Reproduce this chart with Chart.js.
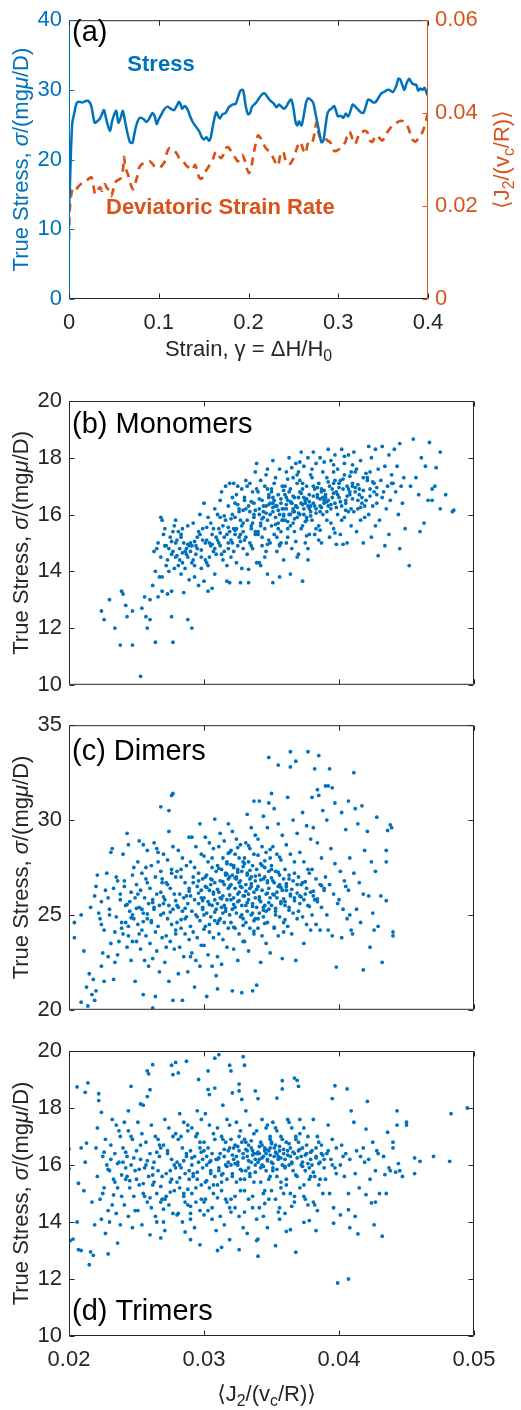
<!DOCTYPE html>
<html>
<head>
<meta charset="utf-8">
<script src="https://cdn.jsdelivr.net/npm/chart.js@4.4.1/dist/chart.umd.min.js"></script>
<style>
body { margin: 0; background: #fff; }
#wrap { position: relative; width: 521px; height: 1410px; }
canvas { position: absolute; left: 0; }
</style>
</head>
<body>
<div id="wrap">
<canvas id="chartA" width="521" height="375" style="top:0px"></canvas>
<canvas id="chartB" width="521" height="330" style="top:375px"></canvas>
<canvas id="chartC" width="521" height="325" style="top:705px"></canvas>
<canvas id="chartD" width="521" height="380" style="top:1030px"></canvas>
</div>
<script>
const BLUE = '#0072BD', ORANGE = '#D95319', AXIS = '#262626';
const FONT = '"Liberation Sans", Arial, "DejaVu Sans", sans-serif';

// (a) stress and deviatoric strain rate against strain
const strainS = [0,.001,.002,.0037,.0056,.0085,.011,.015,.0186,.022,.025,.0286,.0316,.0345,.037,.039,.042,.0457,.048,.051,.0527,.055,.0576,.06,.062,.065,.068,.0706,.0724,.0754,.079,.083,.0865,.0895,.093,.0955,.0977,.1,.103,.106,.1096,.1133,.117,.12,.1226,.1244,.126,.129,.132,.135,.1374,.141,.145,.148,.1504,.153,.156,.158,.161,.164,.166,.168,.171,.1746,.178,.182,.1857,.188,.191,.1936,.195,.197,.1995,.2017,.204,.208,.2117,.2154,.218,.221,.224,.2277,.2314,.234,.2366,.2396,.2425,.245,.2477,.25,.2526,.2544,.2563,.259,.2618,.264,.2663,.2693,.2722,.2745,.2767,.2789,.2812,.2834,.2856,.2878,.29,.2923,.2953,.2975,.2997,.3027,.3057,.3083,.311,.3139,.3161,.319,.322,.325,.328,.3306,.3332,.336,.339,.342,.3454,.348,.351,.3547,.357,.361,.365,.367,.369,.3714,.3737,.376,.379,.3814,.384,.387,.389,.3915,.3937,.3963,.398,.4];
const stress = [13.0,16.0,20.5,25.3,26.5,28.1,28.3,28.2,28.4,28.4,27.6,25.3,25.5,25.9,26.6,27.1,25.5,24.1,25.5,26.7,27.0,25.3,26.0,27.0,25.8,23.9,22.5,22.4,23.4,25.1,26.0,25.8,25.4,25.9,26.7,26.2,25.1,25.8,26.5,27.2,27.6,27.3,27.1,27.7,28.3,27.9,27.3,27.7,27.2,26.2,25.5,24.8,24.1,23.2,22.9,23.2,22.7,23.2,25.3,26.8,26.3,25.9,26.5,26.7,27.5,27.9,28.0,28.8,29.9,30.0,29.3,27.6,26.5,26.7,27.6,28.1,28.8,29.4,29.5,29.0,28.5,28.1,27.5,27.9,27.6,27.3,27.7,28.3,28.6,27.4,25.3,24.9,25.5,24.9,26.5,28.1,28.8,28.6,28.1,26.7,25.3,23.9,22.5,22.7,24.6,26.5,27.1,27.3,27.7,27.0,26.2,26.3,26.0,26.6,26.2,27.1,27.9,27.6,27.2,26.8,26.7,27.6,28.6,28.5,28.2,28.3,29.0,29.5,29.7,30.0,30.0,29.7,30.7,31.6,31.5,30.7,30.0,30.9,31.6,31.1,30.8,30.7,29.9,30.2,30.0,30.3,29.7,29.1];
const strainR = [0,.001,.0026,.0048,.0074,.01,.013,.016,.0186,.0223,.0249,.027,.029,.0316,.0345,.037,.0397,.042,.0446,.047,.05,.0527,.0557,.0583,.0605,.0613,.063,.0657,.0687,.0713,.0735,.076,.078,.081,.0836,.0865,.0895,.0925,.0955,.0984,.1014,.1044,.1066,.1088,.1114,.114,.117,.12,.123,.1259,.1289,.1318,.1348,.1378,.1404,.143,.1452,.1474,.1497,.1523,.1549,.1578,.1608,.1634,.166,.169,.172,.1746,.177,.18,.183,.1857,.188,.1905,.193,.1957,.198,.2005,.203,.2054,.208,.2106,.2136,.2165,.2195,.2217,.2247,.2277,.2303,.2329,.2359,.2388,.2414,.244,.247,.25,.2526,.2552,.2581,.2611,.2637,.2656,.2682,.2711,.2737,.2756,.2774,.2797,.2823,.2849,.2878,.2908,.2934,.296,.299,.302,.305,.3079,.3101,.3124,.3146,.3168,.319,.3213,.3242,.3268,.3294,.3324,.3354,.338,.3406,.3436,.3465,.3491,.3517,.3547,.3577,.3603,.3629,.3658,.3688,.3718,.3748,.377,.3792,.3814,.3837,.3863,.3889,.3918,.3944,.3967,.3982,.4];
const rate = [.0128,.0198,.0226,.024,.0236,.0241,.0247,.025,.0254,.0259,.0262,.0247,.0226,.0233,.0241,.0233,.0247,.024,.0233,.0222,.024,.0254,.0257,.0262,.0285,.0306,.0282,.0268,.0247,.0236,.0247,.0264,.0282,.029,.0292,.0294,.0297,.0292,.0285,.0283,.0283,.0289,.0296,.0313,.0324,.0324,.032,.0313,.0303,.0299,.0292,.0285,.0282,.0278,.0289,.0275,.0261,.0259,.0264,.0275,.0283,.0292,.0303,.0317,.0313,.0303,.031,.0324,.0327,.032,.031,.0303,.0296,.0303,.031,.0299,.0282,.0271,.0282,.031,.0334,.0352,.0346,.0334,.0324,.032,.0313,.0303,.0292,.0287,.0313,.0317,.0297,.029,.0292,.0303,.0317,.0331,.0338,.032,.0313,.0331,.0341,.0338,.0359,.038,.0362,.0348,.0345,.0348,.0341,.0338,.0324,.0318,.032,.0324,.033,.0338,.0352,.036,.0352,.0338,.0334,.0345,.0359,.036,.0362,.0359,.0341,.0338,.0348,.0352,.0345,.0341,.0348,.0359,.0367,.0373,.0376,.038,.0383,.0383,.038,.0373,.0362,.0348,.0341,.0339,.0345,.0352,.0362,.0376,.0387,.04];
const strainTicks = [0, 0.1, 0.2, 0.3, 0.4];
const stressTicksA = [0, 10, 20, 30, 40];
const rateTicks = [0, 0.02, 0.04, 0.06];

// (b)-(d) true stress against <J2/(vc/R)>, one [x, y] per sample
const rateXTicks = [0.02, 0.03, 0.04, 0.05];
const monoTicks = [10, 12, 14, 16, 18, 20];
const diTicks = [20, 25, 30, 35];
const triTicks = [10, 12, 14, 16, 18, 20];

const monomers = [
[.0224,12.6],[.0226,12.3],[.0230,13.0],[.0234,12.0],[.0238,11.4],[.0239,13.3],[.0240,13.2],[.0242,12.8],[.0243,12.4],[.0247,11.4],[.0247,12.6],[.0253,10.3],[.0254,12.7],[.0256,13.1],[.0257,12.4],[.0258,12.0],[.0260,13.0],[.0260,12.3],[.0264,11.5],[.0266,13.1],[.0269,13.3],[.0273,13.2],[.0276,12.4],[.0277,11.5],[.0288,12.3],[.0291,12.0],[.0262,13.5],[.0264,14.0],[.0265,14.8],[.0267,13.8],[.0269,13.8],[.0268,15.9],[.0269,15.8],[.0266,15.0],[.0268,14.5],[.0263,14.7],
[.0271,15.5],[.0278,15.6],[.0275,15.2],[.0272,14.9],[.0277,14.7],[.0279,15.0],[.0273,14.4],[.0272,14.2],[.0276,14.6],[.0274,14.0],[.0276,13.3],[.0270,15.3],[.0274,14.8],[.0279,14.5],[.0277,15.4],[.0278,14.1],[.0271,14.9],[.0279,15.8],
[.0281,15.4],[.0283,15.2],[.0285,15.0],[.0282,14.8],[.0287,14.6],[.0289,14.9],[.0284,14.3],[.0286,14.1],[.0288,14.5],[.0283,15.3],[.0280,15.1],[.0286,14.7],[.0285,13.25],[.0289,13.7],[.0281,14.2],[.0288,15.6],[.0282,14.4],[.0284,15.5],[.0287,14.8],[.0283,13.9],
[.0292,15.7],[.0297,15.3],[.0290,15.0],[.0295,14.8],[.0298,14.5],[.0293,14.2],[.0291,14.9],[.0296,15.4],[.0296,13.5],[.0294,14.6],[.0299,15.1],[.0290,14.7],[.0297,16.0],[.0292,14.4],[.0295,15.2],[.0298,14.1],[.0293,13.8],[.0299,15.5],[.0294,14.9],[.0291,14.3],
[.0300,16.4],[.0303,15.9],[.0306,15.3],[.0301,15.0],[.0308,14.8],[.0304,14.5],[.0302,14.3],[.0309,15.2],[.0306,13.4],[.0303,13.3],[.0300,13.65],[.0305,14.9],[.0307,15.5],[.0302,15.1],[.0309,14.6],[.0301,14.4],[.0305,15.7],[.0307,14.7],[.0304,15.0],[.0308,16.2],[.0308,13.9],[.0303,14.2],
[.0316,17.0],[.0319,17.1],[.0312,16.5],[.0310,16.0],[.0314,15.6],[.0317,15.3],[.0311,15.0],[.0318,14.8],[.0313,14.6],[.0315,15.2],[.0319,15.4],[.0317,13.65],[.0319,13.6],[.0312,14.9],[.0316,15.8],[.0318,16.3],[.0310,15.1],[.0314,14.4],[.0311,15.5],[.0315,14.7],[.0313,16.8],[.0317,14.2],[.0312,15.9],[.0318,15.0],
[.0322,17.1],[.0325,17.0],[.0328,16.9],[.0321,16.6],[.0326,16.2],[.0323,15.9],[.0329,15.7],[.0324,15.5],[.0327,15.3],[.0320,15.1],[.0325,14.9],[.0322,14.7],[.0328,15.6],[.0321,16.0],[.0327,13.6],[.0324,14.3],[.0326,15.2],[.0329,15.4],[.0323,16.4],[.0320,14.5],[.0327,15.8],[.0324,16.7],[.0321,15.0],[.0328,14.1],[.0322,15.5],[.0326,16.1],[.0329,14.8],[.0323,15.3],
[.0331,17.2],[.0334,17.1],[.0338,17.5],[.0339,17.8],[.0336,16.8],[.0330,16.5],[.0333,16.3],[.0337,16.0],[.0332,15.8],[.0335,15.6],[.0338,15.4],[.0331,15.2],[.0334,15.0],[.0336,14.8],[.0339,14.3],[.0333,14.07],[.0331,16.2],[.0337,15.9],[.0335,15.5],[.0330,16.6],[.0332,14.6],[.0338,15.3],[.0334,16.1],[.0336,15.7],[.0339,16.9],[.0333,13.6],[.0330,15.1],[.0337,16.4],[.0335,14.9],[.0332,17.0],
[.0347,17.6],[.0342,17.2],[.0345,17.0],[.0340,16.8],[.0348,16.6],[.0343,16.5],[.0346,16.3],[.0341,16.2],[.0349,16.0],[.0344,15.9],[.0347,15.8],[.0342,15.6],[.0345,15.5],[.0340,15.3],[.0348,15.1],[.0343,14.9],[.0346,14.7],[.0341,14.3],[.0349,16.4],[.0344,16.1],[.0342,15.7],[.0347,16.9],[.0340,15.4],[.0345,14.5],[.0348,16.7],[.0343,15.2],[.0346,17.4],[.0341,16.0],[.0349,15.0],[.0344,16.3],[.0347,13.9],[.0342,14.2],
[.0351,17.9],[.0356,17.6],[.0353,17.3],[.0358,17.0],[.0350,16.9],[.0355,16.7],[.0352,16.5],[.0357,16.4],[.0354,16.3],[.0359,16.2],[.0351,16.1],[.0356,16.0],[.0353,15.9],[.0358,15.8],[.0350,15.6],[.0355,15.5],[.0352,15.3],[.0357,15.0],[.0354,14.7],[.0359,14.4],[.0356,13.8],[.0351,13.6],[.0351,16.6],[.0358,16.2],[.0355,15.7],[.0350,16.8],[.0357,15.4],[.0352,17.1],[.0359,16.0],[.0354,15.2],[.0356,14.9],[.0351,16.4],[.0358,15.8],[.0353,16.3],
[.0363,18.0],[.0368,17.8],[.0361,17.5],[.0366,17.3],[.0369,17.1],[.0364,16.9],[.0360,16.7],[.0367,16.6],[.0362,16.5],[.0365,16.4],[.0368,16.3],[.0361,16.2],[.0366,16.1],[.0363,16.0],[.0369,15.9],[.0360,15.8],[.0364,15.6],[.0367,15.4],[.0362,15.2],[.0365,14.8],[.0369,14.5],[.0364,13.9],[.0361,16.6],[.0368,16.3],[.0363,16.8],[.0366,15.7],[.0360,17.0],[.0367,16.1],[.0362,15.5],[.0365,16.4],[.0369,17.4],[.0361,15.0],[.0366,16.2],[.0364,16.0],
[.0372,18.2],[.0377,18.0],[.0374,17.7],[.0379,17.4],[.0371,17.2],[.0376,17.0],[.0373,16.9],[.0378,16.7],[.0370,16.6],[.0375,16.5],[.0372,16.4],[.0377,16.3],[.0374,16.2],[.0379,16.1],[.0371,16.0],[.0376,15.8],[.0373,15.6],[.0378,15.3],[.0375,15.0],[.0370,14.6],[.0377,14.4],[.0373,13.65],[.0374,16.6],[.0379,16.3],[.0371,16.8],[.0376,15.9],[.0373,17.1],[.0378,16.2],[.0372,15.5],[.0375,16.4],[.0370,17.5],[.0377,14.8],[.0374,16.0],
[.0381,18.2],[.0386,18.0],[.0383,17.8],[.0388,17.5],[.0380,17.3],[.0385,17.1],[.0382,16.9],[.0387,16.8],[.0384,16.6],[.0389,16.5],[.0381,16.4],[.0386,16.3],[.0383,16.2],[.0388,16.0],[.0380,15.8],[.0385,15.6],[.0382,15.3],[.0387,15.0],[.0384,16.7],[.0389,16.4],[.0381,17.0],[.0386,16.1],[.0383,15.5],[.0388,16.6],[.0380,17.6],[.0385,15.1],[.0387,16.9],[.0382,16.3],
[.0392,18.3],[.0397,18.1],[.0394,17.9],[.0399,17.6],[.0391,17.3],[.0396,17.1],[.0393,17.0],[.0398,16.8],[.0390,16.7],[.0395,16.6],[.0392,16.5],[.0397,16.4],[.0394,16.2],[.0399,16.0],[.0391,15.8],[.0396,15.5],[.0393,15.2],[.0398,14.95],[.0395,16.9],[.0390,16.6],[.0397,17.2],[.0392,16.3],[.0394,15.7],[.0399,16.7],[.0396,17.5],[.0391,16.1],
[.0402,18.3],[.0407,18.1],[.0404,17.8],[.0409,17.5],[.0401,17.2],[.0406,17.0],[.0403,16.9],[.0408,16.8],[.0400,16.6],[.0405,16.5],[.0402,16.3],[.0407,16.1],[.0404,15.9],[.0409,15.6],[.0401,15.3],[.0406,15.0],[.0403,14.95],[.0408,16.7],[.0400,17.1],[.0405,16.4],[.0402,15.8],[.0407,16.9],[.0404,17.4],[.0409,16.2],
[.0411,18.2],[.0416,17.9],[.0413,17.6],[.0418,17.3],[.0410,17.1],[.0415,16.9],[.0412,16.8],[.0417,16.6],[.0414,16.5],[.0419,16.3],[.0411,16.1],[.0416,15.8],[.0413,15.4],[.0418,15.0],[.0415,16.7],[.0410,17.0],[.0417,16.4],[.0412,17.5],[.0419,15.9],[.0414,16.2],
[.0422,18.4],[.0427,18.3],[.0424,18.0],[.0429,17.6],[.0421,17.3],[.0426,17.1],[.0423,16.9],[.0428,16.7],[.0420,16.5],[.0425,16.3],[.0422,16.0],[.0427,15.6],[.0424,15.2],[.0429,14.55],[.0426,16.8],[.0421,17.2],[.0428,16.4],[.0423,17.5],
[.0432,18.4],[.0437,18.1],[.0434,17.7],[.0439,17.4],[.0431,17.2],[.0436,17.0],[.0433,16.8],[.0438,16.5],[.0435,16.2],[.0430,15.8],[.0437,15.3],[.0434,14.9],[.0439,17.1],[.0432,16.6],
[.0441,18.3],[.0445,18.5],[.0443,17.7],[.0448,17.3],[.0440,17.1],[.0446,17.0],[.0442,16.8],[.0447,16.4],[.0444,16.0],[.0449,15.5],[.0445,14.8],[.0452,14.2],
[.0455,18.66],[.0461,18.0],[.0464,17.7],[.0457,17.3],[.0453,17.0],[.0459,16.7],[.0463,15.7],[.0460,15.4],
[.0467,18.54],[.0475,18.2],[.0472,17.65],[.0469,16.9],[.0469,16.5],[.0466,16.5],[.0479,16.7],[.0475,16.2],[.0484,16.1],[.0485,16.15],[.0471,17.0],
[.0335,16.45],[.0338,16.15],[.0341,16.55],[.0343,15.85],[.0346,16.05],[.0348,16.35],[.0351,16.25],[.0353,15.65],[.0355,16.15],[.0357,16.55],[.0359,15.95],[.0361,16.35],[.0362,15.75],[.0364,16.45],[.0366,16.65],[.0367,15.85],[.0369,16.25],[.0370,16.05],[.0372,16.75],[.0373,16.35],[.0375,15.75],[.0376,16.55],[.0378,16.45],[.0379,15.95],[.0381,16.65],[.0383,16.05],[.0384,16.95],[.0386,16.55],[.0387,16.25],[.0389,16.85],[.0391,16.45],[.0392,17.15],[.0394,16.35],[.0396,16.75],[.0398,16.25],[.0400,16.95],[.0401,16.45],[.0403,17.25],[.0405,16.15],[.0406,16.65],[.0408,17.35],[.0410,16.55],[.0412,16.95],[.0414,17.05],[.0416,16.25],[.0418,16.85],[.0420,17.45],[.0423,16.65],[.0425,17.15],[.0428,16.95],
[.0320,15.85],[.0323,15.45],[.0325,16.35],[.0327,15.05],[.0329,16.15],[.0312,15.35],[.0315,15.95],[.0318,15.55],[.0306,14.95],[.0302,15.55],[.0298,14.75],[.0293,15.05],[.0288,14.95],[.0284,14.65],[.0280,14.55],[.0276,15.05],[.0359,16.85],[.0362,17.25],[.0365,17.65],[.0371,17.85],[.0389,17.85],[.0396,17.75],[.0404,18.05],[.0410,17.75],[.0397,15.35],[.0386,15.45],[.0376,15.25],[.0368,15.05],[.0356,14.95],[.0347,14.95]
];

const dimers = [
[.0204,24.6],[.0204,23.8],[.0209,25.0],[.0209,20.4],[.0211,23.1],
[.0214,20.2],[.0213,21.2],[.0216,25.4],[.0220,26.5],[.0221,27.1],[.0219,26.0],[.0217,20.8],[.0218,21.6],[.0215,21.9],
[.0222,25.1],[.0224,24.5],[.0224,25.7],[.0226,24.2],[.0224,22.3],[.0220,21.0],[.0219,20.5],[.0227,26.3],[.0228,27.2],[.0229,22.8],[.0225,23.0],[.0223,24.8],[.0226,21.5],[.0229,25.9],
[.0232,28.5],[.0231,28.3],[.0236,26.8],[.0233,26.4],[.0238,25.8],[.0230,25.3],[.0235,24.9],[.0239,24.6],[.0234,24.1],[.0237,23.6],[.0231,23.5],[.0236,22.9],[.0233,21.6],[.0238,26.1],[.0230,25.0],[.0235,27.0],[.0239,24.3],[.0234,22.5],
[.0240,28.2],[.0243,29.3],[.0247,27.1],[.0241,26.8],[.0246,26.2],[.0249,25.9],[.0242,25.5],[.0245,25.2],[.0248,24.8],[.0244,24.4],[.0240,24.0],[.0247,23.6],[.0243,23.3],[.0246,22.6],[.0249,21.5],[.0241,26.5],[.0245,25.7],[.0248,27.5],[.0242,24.6],[.0244,23.9],[.0244,28.7],[.0247,25.0],
[.0252,28.9],[.0255,28.7],[.0258,28.4],[.0251,27.8],[.0254,27.2],[.0257,26.9],[.0250,26.6],[.0253,26.3],[.0256,25.9],[.0259,25.6],[.0252,25.4],[.0255,25.1],[.0258,24.8],[.0251,24.5],[.0254,24.2],[.0257,23.9],[.0250,23.6],[.0253,23.2],[.0256,22.6],[.0259,22.3],[.0251,26.1],[.0254,25.3],[.0257,27.5],[.0252,24.0],[.0258,26.7],[.0255,20.8],
[.0263,28.8],[.0266,28.3],[.0261,27.6],[.0268,27.3],[.0264,27.0],[.0269,26.7],[.0260,26.4],[.0265,26.1],[.0262,25.8],[.0267,25.5],[.0263,25.3],[.0268,25.0],[.0261,24.7],[.0266,24.4],[.0264,24.1],[.0269,23.8],[.0260,23.5],[.0265,23.1],[.0262,22.7],[.0267,22.0],[.0264,20.7],[.0268,26.2],[.0263,25.4],[.0266,27.8],[.0261,24.6],[.0269,26.9],[.0265,28.5],[.0262,20.1],
[.0268,30.7],[.0274,29.4],[.0277,28.6],[.0270,28.2],[.0273,27.9],[.0276,27.4],[.0279,27.0],[.0272,26.7],[.0275,26.4],[.0278,26.1],[.0271,25.8],[.0274,25.5],[.0277,25.3],[.0270,25.1],[.0273,24.8],[.0276,24.5],[.0279,24.2],[.0272,23.9],[.0275,23.6],[.0278,23.2],[.0271,22.5],[.0274,21.5],[.0277,20.5],[.0270,25.6],[.0273,26.6],[.0276,27.2],[.0279,24.0],[.0272,23.3],
[.0276,31.3],[.0277,31.4],[.0274,30.5],[.0289,29.1],[.0281,28.4],[.0284,28.0],[.0287,27.6],[.0280,27.3],[.0283,27.0],[.0286,26.7],[.0289,26.4],[.0282,26.1],[.0285,25.9],[.0288,25.6],[.0281,25.4],[.0284,25.2],[.0287,24.9],[.0280,24.6],[.0283,24.3],[.0286,24.0],[.0289,23.7],[.0282,23.3],[.0285,22.8],[.0288,22.0],[.0281,21.9],[.0284,20.5],[.0287,26.0],[.0280,25.5],[.0283,27.4],[.0286,24.8],
[.0297,29.8],[.0291,29.1],[.0294,28.6],[.0298,28.2],[.0290,27.8],[.0293,27.5],[.0296,27.2],[.0299,26.9],[.0292,26.7],[.0295,26.5],[.0298,26.3],[.0290,26.0],[.0293,25.8],[.0296,25.6],[.0299,25.4],[.0291,25.2],[.0294,25.0],[.0297,24.7],[.0290,24.4],[.0292,24.1],[.0295,23.8],[.0298,23.4],[.0291,23.0],[.0294,22.6],[.0297,22.3],[.0293,21.2],[.0296,26.8],[.0299,25.3],[.0292,27.0],[.0295,24.9],[.0290,22.8],[.0298,25.9],
[.0308,30.05],[.0301,29.1],[.0304,28.8],[.0307,28.5],[.0300,28.1],[.0303,27.8],[.0306,27.5],[.0309,27.3],[.0302,27.1],[.0305,26.9],[.0308,26.7],[.0301,26.5],[.0304,26.3],[.0307,26.1],[.0300,25.9],[.0303,25.7],[.0306,25.5],[.0309,25.3],[.0302,25.1],[.0305,24.9],[.0308,24.7],[.0301,24.4],[.0304,24.1],[.0307,23.8],[.0300,23.4],[.0303,22.9],[.0306,22.3],[.0309,21.8],[.0302,20.7],[.0305,26.6],[.0308,25.8],[.0301,27.0],[.0304,24.5],[.0307,26.2],[.0300,25.0],[.0306,28.0],
[.0318,29.8],[.0312,29.3],[.0315,28.9],[.0311,28.6],[.0319,28.3],[.0314,28.0],[.0317,27.8],[.0310,27.6],[.0313,27.4],[.0316,27.2],[.0319,27.0],[.0312,26.8],[.0315,26.6],[.0318,26.4],[.0311,26.2],[.0314,26.0],[.0317,25.8],[.0310,25.6],[.0313,25.4],[.0316,25.2],[.0319,25.0],[.0312,24.8],[.0315,24.6],[.0318,24.3],[.0311,24.0],[.0314,23.7],[.0317,23.3],[.0310,22.8],[.0313,22.4],[.0316,27.1],[.0319,26.5],[.0312,25.9],[.0315,25.5],[.0318,26.9],[.0311,24.7],[.0314,25.1],[.0317,27.7],[.0310,21.1],
[.0321,29.4],[.0324,29.0],[.0327,28.7],[.0320,28.4],[.0323,28.2],[.0326,28.0],[.0329,27.8],[.0322,27.6],[.0325,27.4],[.0328,27.3],[.0321,27.1],[.0324,26.9],[.0327,26.8],[.0320,26.6],[.0323,26.4],[.0326,26.2],[.0329,26.0],[.0322,25.9],[.0325,25.7],[.0328,25.5],[.0321,25.3],[.0324,25.1],[.0327,24.9],[.0320,24.6],[.0323,24.3],[.0326,24.0],[.0329,23.6],[.0322,23.2],[.0325,22.6],[.0328,20.9],[.0321,21.0],[.0324,27.0],[.0327,26.5],[.0320,25.8],[.0323,25.4],[.0326,26.7],[.0329,24.8],[.0322,27.5],[.0325,26.1],[.0328,25.0],
[.0337,31.0],[.0332,30.3],[.0335,29.6],[.0338,29.2],[.0331,28.8],[.0334,28.5],[.0337,28.2],[.0330,28.0],[.0333,27.8],[.0336,27.6],[.0339,27.4],[.0332,27.2],[.0335,27.0],[.0338,26.8],[.0331,26.6],[.0334,26.4],[.0337,26.2],[.0330,26.0],[.0333,25.8],[.0336,25.6],[.0339,25.4],[.0332,25.2],[.0335,25.0],[.0338,24.8],[.0331,24.6],[.0334,24.3],[.0337,24.0],[.0330,23.6],[.0333,23.1],[.0336,21.0],[.0339,21.3],[.0332,27.1],[.0335,26.5],[.0338,25.9],[.0331,25.5],[.0334,26.9],[.0337,24.7],[.0330,27.7],[.0333,26.1],[.0336,25.1],
[.0348,33.3],[.0341,31.0],[.0348,30.9],[.0344,30.2],[.0347,29.6],[.0340,29.0],[.0343,28.6],[.0346,28.3],[.0349,28.0],[.0342,27.7],[.0345,27.5],[.0348,27.3],[.0341,27.1],[.0344,26.9],[.0347,26.7],[.0340,26.5],[.0343,26.3],[.0346,26.1],[.0349,25.9],[.0342,25.7],[.0345,25.5],[.0348,25.3],[.0341,25.1],[.0344,24.9],[.0347,24.6],[.0340,24.3],[.0343,23.9],[.0346,23.5],[.0349,23.0],[.0342,22.5],[.0345,27.0],[.0348,26.4],[.0341,25.8],[.0344,25.4],[.0347,26.8],[.0340,24.8],[.0343,27.6],[.0346,25.2],
[.0355,32.9],[.0350,31.4],[.0352,30.6],[.0355,29.8],[.0358,29.2],[.0351,28.6],[.0354,28.2],[.0357,27.9],[.0350,27.6],[.0353,27.3],[.0356,27.1],[.0359,26.9],[.0352,26.7],[.0355,26.5],[.0358,26.3],[.0351,26.1],[.0354,25.9],[.0357,25.7],[.0350,25.5],[.0353,25.2],[.0356,24.9],[.0359,24.6],[.0352,24.3],[.0355,23.9],[.0358,22.7],[.0351,26.8],[.0354,26.2],[.0357,25.6],[.0350,27.4],[.0353,25.0],[.0356,26.6],[.0359,24.1],
[.0364,33.6],[.0364,32.8],[.0368,33.1],[.0362,31.2],[.0366,30.0],[.0369,29.3],[.0361,28.7],[.0364,28.2],[.0367,27.8],[.0360,27.4],[.0363,27.1],[.0366,26.8],[.0369,26.6],[.0361,26.3],[.0364,26.1],[.0367,25.9],[.0360,25.7],[.0363,25.4],[.0366,25.1],[.0369,24.8],[.0362,24.4],[.0365,24.0],[.0368,22.6],[.0361,26.5],[.0364,26.0],[.0367,27.2],[.0360,25.5],[.0363,26.9],
[.0377,33.6],[.0380,31.2],[.0373,30.4],[.0376,29.7],[.0379,29.0],[.0371,28.3],[.0374,27.8],[.0377,27.4],[.0370,27.0],[.0373,26.7],[.0376,26.4],[.0379,26.2],[.0371,26.0],[.0374,25.8],[.0377,25.5],[.0370,25.2],[.0373,24.9],[.0376,24.5],[.0379,24.2],[.0372,26.6],[.0375,26.1],[.0378,27.2],[.0371,25.6],[.0374,23.5],
[.0385,33.4],[.0382,32.7],[.0384,31.6],[.0385,31.3],[.0388,30.5],[.0381,29.6],[.0384,28.8],[.0387,28.0],[.0380,27.4],[.0383,26.9],[.0386,26.6],[.0389,26.3],[.0381,26.0],[.0384,25.7],[.0387,25.4],[.0380,25.0],[.0383,24.5],[.0386,24.2],[.0389,26.4],[.0382,25.8],
[.0393,32.7],[.0390,31.8],[.0395,31.7],[.0392,31.8],[.0397,30.9],[.0391,30.0],[.0394,28.5],[.0397,27.7],[.0390,27.0],[.0393,26.6],[.0396,26.1],[.0399,25.6],[.0392,24.2],[.0395,23.9],[.0398,22.25],[.0391,25.0],
[.0407,31.0],[.0402,30.4],[.0405,29.5],[.0408,28.0],[.0401,27.3],[.0404,26.8],[.0407,26.3],[.0400,25.8],[.0403,25.3],[.0406,24.8],[.0409,24.2],[.0402,23.8],[.0405,26.5],[.0408,25.0],
[.0411,32.5],[.0417,30.75],[.0412,30.6],[.0414,29.8],[.0419,28.4],[.0411,27.2],[.0415,26.7],[.0418,26.1],[.0413,25.3],[.0416,24.6],[.0410,24.0],[.0418,22.1],
[.0421,29.4],[.0428,30.15],[.0424,27.8],[.0427,27.3],[.0422,26.0],[.0425,25.1],[.0429,24.4],[.0423,23.3],[.0426,24.2],
[.0438,29.75],[.0439,29.6],[.0436,29.45],[.0435,28.4],[.0435,27.8],[.0435,25.75],[.0431,26.0],[.0432,22.5],
[.0440,24.1],[.0440,23.9],
[.0296,26.15],[.0299,25.75],[.0302,26.45],[.0304,25.55],[.0306,26.85],[.0308,25.15],[.0310,26.35],[.0311,27.45],[.0313,25.85],[.0314,26.75],[.0316,25.35],[.0317,27.15],[.0319,26.05],[.0320,27.65],[.0322,25.55],[.0323,26.95],[.0325,27.25],[.0326,25.75],[.0328,26.45],[.0329,27.55],[.0331,26.25],[.0332,25.65],[.0334,27.35],[.0335,26.65],[.0336,25.45],[.0338,27.05],[.0339,26.35],[.0341,25.95],[.0342,26.85],[.0344,25.25],[.0345,27.85],[.0347,26.15],[.0348,25.65],[.0350,26.95],[.0352,26.05],[.0353,25.35],[.0355,27.25],[.0357,26.45],[.0359,25.85],[.0361,26.65],[.0363,25.25],[.0365,26.35],[.0367,25.75],[.0369,26.15],[.0372,25.95],[.0375,26.75],[.0378,25.45],[.0381,26.25],[.0384,25.85],[.0387,26.55],
[.0270,25.95],[.0275,25.15],[.0279,25.75],[.0283,24.75],[.0286,25.35],[.0289,26.25],[.0262,25.65],[.0258,25.05],[.0255,24.65],[.0250,25.35],[.0246,24.85],[.0243,25.55],[.0318,28.25],[.0325,28.55],[.0333,28.65],[.0340,28.15],[.0349,28.45],[.0356,28.05],[.0329,24.45],[.0337,24.15],[.0345,24.55],[.0352,24.35],[.0360,24.75],[.0322,24.35],[.0310,24.55],[.0300,24.25]
];

const trimers = [
[.0200,16.56],[.0200,15.87],[.0206,18.74],[.0207,15.36],[.0206,14.0],[.0201,13.35],[.0203,13.4],[.0207,13.03],
[.0214,18.88],[.0212,18.55],[.0209,16.6],[.0213,16.77],[.0209,13.0],[.0216,12.95],[.0218,12.83],[.0215,12.5],[.0211,15.1],[.0217,14.7],[.0219,13.9],[.0212,16.1],
[.0222,18.5],[.0222,18.26],[.0224,17.85],[.0227,16.9],[.0220,16.6],[.0225,16.3],[.0228,16.0],[.0221,15.6],[.0226,15.2],[.0223,14.8],[.0229,14.4],[.0224,14.1],[.0227,13.6],[.0229,12.88],[.0221,17.3],[.0225,15.0],
[.0232,17.6],[.0235,17.4],[.0238,17.0],[.0231,16.7],[.0234,16.4],[.0237,16.1],[.0230,15.8],[.0233,15.5],[.0236,15.2],[.0239,14.9],[.0232,14.6],[.0235,14.3],[.0236,13.26],[.0238,13.9],[.0231,16.2],[.0234,15.4],[.0237,17.2],[.0230,14.0],
[.0246,18.76],[.0244,17.9],[.0241,17.5],[.0244,17.2],[.0247,16.9],[.0240,16.6],[.0243,16.3],[.0246,16.0],[.0249,15.8],[.0242,15.5],[.0245,15.2],[.0248,14.9],[.0241,14.6],[.0244,14.2],[.0247,13.8],[.0240,16.1],[.0243,15.6],[.0246,17.0],[.0249,14.4],[.0242,15.9],
[.0258,19.3],[.0259,19.2],[.0260,18.64],[.0258,18.4],[.0253,18.14],[.0255,18.1],[.0251,17.5],[.0254,17.1],[.0257,16.8],[.0250,16.5],[.0253,16.2],[.0256,15.9],[.0259,15.6],[.0252,15.3],[.0255,15.0],[.0258,14.7],[.0251,14.4],[.0254,13.9],[.0257,16.0],[.0250,15.5],[.0253,16.7],[.0256,14.9],
[.0262,19.52],[.0261,17.4],[.0264,17.0],[.0267,16.7],[.0260,16.4],[.0263,16.1],[.0266,15.8],[.0269,15.6],[.0262,15.3],[.0265,15.0],[.0268,14.7],[.0261,14.5],[.0264,14.2],[.0260,13.55],[.0268,13.44],[.0267,16.3],[.0263,15.4],[.0266,16.9],[.0269,14.8],[.0262,15.9],[.0265,14.0],[.0268,16.6],
[.0276,19.5],[.0279,19.6],[.0277,19.17],[.0271,17.6],[.0274,17.3],[.0277,17.0],[.0270,16.7],[.0273,16.4],[.0276,16.2],[.0279,15.9],[.0272,15.7],[.0275,15.4],[.0278,15.1],[.0271,14.8],[.0274,14.6],[.0277,14.3],[.0270,14.0],[.0273,16.5],[.0276,15.5],[.0279,17.1],[.0272,14.9],[.0275,15.8],[.0278,16.0],[.0271,13.7],
[.0281,19.23],[.0287,19.64],[.0282,17.8],[.0285,17.5],[.0288,17.2],[.0281,16.9],[.0284,16.6],[.0287,16.4],[.0280,16.1],[.0283,15.9],[.0286,15.7],[.0289,15.5],[.0282,15.2],[.0285,14.9],[.0288,14.6],[.0281,14.3],[.0284,14.0],[.0286,13.65],[.0287,16.3],[.0280,15.4],[.0283,17.0],[.0286,14.7],[.0289,15.8],[.0282,16.0],[.0285,15.0],[.0288,17.4],
[.0296,19.0],[.0295,17.9],[.0298,17.6],[.0291,17.3],[.0294,17.0],[.0297,16.8],[.0290,16.5],[.0293,16.3],[.0296,16.1],[.0299,15.9],[.0292,15.7],[.0295,15.5],[.0298,15.3],[.0291,15.0],[.0294,14.7],[.0297,14.4],[.0290,14.1],[.0293,13.8],[.0290,13.38],[.0297,13.2],[.0299,16.2],[.0292,15.6],[.0295,17.1],[.0298,14.8],[.0291,16.0],[.0294,15.2],[.0297,16.6],[.0290,14.3],
[.0303,19.3],[.0303,18.65],[.0304,18.47],[.0308,19.75],[.0301,17.8],[.0304,17.4],[.0307,17.1],[.0300,16.8],[.0303,16.6],[.0306,16.4],[.0309,16.2],[.0302,16.0],[.0305,15.8],[.0308,15.6],[.0301,15.4],[.0304,15.2],[.0307,15.0],[.0300,14.7],[.0303,14.4],[.0306,14.1],[.0309,13.7],[.0310,13.0],[.0302,16.3],[.0305,15.7],[.0308,16.9],[.0301,14.8],[.0304,16.1],[.0307,15.3],[.0300,16.5],[.0306,14.5],
[.0311,19.87],[.0308,18.7],[.0319,19.5],[.0320,19.3],[.0314,18.1],[.0317,17.6],[.0310,17.3],[.0313,17.0],[.0316,16.8],[.0319,16.6],[.0312,16.4],[.0315,16.3],[.0318,16.1],[.0311,15.9],[.0314,15.7],[.0317,15.5],[.0310,15.3],[.0313,15.1],[.0316,14.8],[.0319,14.5],[.0312,14.2],[.0315,13.9],[.0313,13.11],[.0319,13.38],[.0318,16.5],[.0311,15.8],[.0314,16.9],[.0317,14.7],[.0310,16.2],[.0313,15.4],[.0316,16.0],[.0319,17.4],
[.0321,18.53],[.0326,18.6],[.0326,18.84],[.0329,19.8],[.0330,19.5],[.0328,18.3],[.0324,17.5],[.0327,17.2],[.0320,16.9],[.0323,16.7],[.0326,16.5],[.0329,16.4],[.0322,16.2],[.0325,16.0],[.0328,15.8],[.0321,15.6],[.0324,15.4],[.0327,15.1],[.0320,14.8],[.0323,14.5],[.0326,14.2],[.0329,13.8],[.0326,13.03],[.0322,16.6],[.0325,16.1],[.0328,16.8],[.0321,15.7],[.0324,16.3],[.0327,15.5],[.0320,16.0],[.0323,14.9],[.0326,17.0],
[.0338,18.6],[.0331,17.9],[.0334,17.4],[.0337,17.1],[.0330,16.9],[.0333,16.7],[.0336,16.5],[.0339,16.4],[.0332,16.3],[.0335,16.1],[.0338,16.0],[.0331,15.8],[.0334,15.6],[.0337,15.4],[.0330,15.1],[.0333,14.8],[.0336,14.5],[.0339,14.1],[.0339,13.35],[.0332,13.6],[.0335,16.6],[.0338,16.2],[.0331,16.8],[.0334,15.7],[.0337,16.4],[.0330,15.5],[.0333,15.9],[.0336,14.9],[.0339,17.2],[.0332,16.5],
[.0340,18.33],[.0340,12.8],[.0343,17.6],[.0346,17.3],[.0349,17.0],[.0342,16.8],[.0345,16.6],[.0348,16.5],[.0341,16.4],[.0344,16.3],[.0347,16.2],[.0340,16.1],[.0343,16.0],[.0346,15.8],[.0349,15.6],[.0342,15.4],[.0345,15.1],[.0348,14.8],[.0341,14.5],[.0344,14.2],[.0347,13.8],[.0340,13.4],[.0343,16.7],[.0346,16.4],[.0349,16.9],[.0342,15.9],[.0345,16.5],[.0348,15.5],[.0341,16.2],[.0344,15.0],[.0347,17.4],[.0349,16.6],
[.0358,18.96],[.0358,18.67],[.0354,18.35],[.0351,17.5],[.0354,17.2],[.0357,17.0],[.0350,16.8],[.0353,16.7],[.0356,16.5],[.0359,16.4],[.0352,16.3],[.0355,16.2],[.0358,16.0],[.0351,15.8],[.0354,15.6],[.0357,15.4],[.0350,15.1],[.0353,14.8],[.0356,14.5],[.0356,14.1],[.0353,13.17],[.0352,16.6],[.0355,16.3],[.0358,16.9],[.0351,15.9],[.0354,16.4],[.0357,15.2],[.0350,16.1],[.0353,17.3],[.0359,15.0],
[.0367,19.05],[.0369,18.97],[.0370,18.76],[.0362,17.6],[.0365,17.3],[.0368,17.0],[.0361,16.8],[.0364,16.6],[.0367,16.4],[.0360,16.2],[.0363,16.0],[.0366,15.8],[.0369,15.6],[.0361,15.3],[.0364,15.0],[.0367,14.7],[.0360,14.3],[.0364,13.73],[.0361,13.67],[.0368,12.94],[.0362,16.5],[.0365,16.1],[.0368,16.9],[.0361,15.5],[.0364,16.3],[.0367,14.9],[.0360,15.9],[.0363,17.5],
[.0371,17.6],[.0374,17.3],[.0377,17.0],[.0370,16.8],[.0373,16.6],[.0376,16.4],[.0379,16.2],[.0372,16.0],[.0375,15.8],[.0378,15.5],[.0371,15.2],[.0374,14.9],[.0377,14.6],[.0378,14.05],[.0374,13.99],[.0370,16.5],[.0373,16.1],[.0376,16.7],[.0379,15.6],[.0372,16.3],[.0375,14.8],[.0378,15.9],[.0371,17.1],[.0374,15.3],
[.0381,17.6],[.0384,17.0],[.0387,16.7],[.0380,16.5],[.0383,16.3],[.0386,16.1],[.0389,15.9],[.0382,15.6],[.0385,15.3],[.0388,15.0],[.0381,14.7],[.0384,14.4],[.0383,13.7],[.0387,16.4],[.0380,16.0],[.0383,16.6],[.0386,15.5],[.0389,16.2],[.0382,14.6],[.0385,16.8],
[.0397,18.78],[.0395,18.33],[.0392,17.4],[.0395,16.9],[.0398,16.6],[.0391,16.4],[.0394,16.2],[.0397,15.9],[.0390,15.5],[.0393,15.0],[.0396,14.5],[.0396,13.96],[.0399,11.86],[.0392,16.5],[.0395,16.0],[.0398,15.7],
[.0406,18.67],[.0409,17.9],[.0411,17.5],[.0402,16.7],[.0405,16.4],[.0408,16.2],[.0401,16.0],[.0404,15.6],[.0407,15.0],[.0407,14.43],[.0401,14.25],[.0408,13.8],[.0407,12.0],[.0403,16.3],
[.0421,18.23],[.0420,17.26],[.0413,16.5],[.0416,16.3],[.0419,16.1],[.0412,15.7],[.0415,15.2],[.0420,14.96],[.0424,14.67],[.0414,13.58],[.0412,14.2],[.0418,16.6],
[.0436,17.15],[.0425,16.8],[.0428,16.5],[.0422,16.2],[.0427,15.8],[.0430,15.0],[.0427,14.7],[.0426,13.9],[.0423,15.5],[.0429,16.4],
[.0440,16.8],[.0440,16.6],[.0434,15.66],[.0435,15.0],[.0432,13.5],[.0437,15.9],[.0433,16.3],[.0438,15.8],
[.0443,17.9],[.0443,17.4],[.0444,16.05],[.0445,15.8],[.0442,15.75],[.0450,17.5],[.0450,17.4],[.0447,15.6],
[.0460,16.13],[.0456,16.25],[.0456,15.7],[.0470,16.3],[.0483,17.8],[.0482,16.13],[.0495,18.0],
[.0321,16.35],[.0323,16.05],[.0325,16.65],[.0327,15.85],[.0329,16.25],[.0331,16.55],[.0333,16.15],[.0335,16.85],[.0336,16.35],[.0338,15.75],[.0340,16.45],[.0341,16.65],[.0343,16.25],[.0344,15.95],[.0346,16.55],[.0347,16.15],[.0349,16.35],[.0350,16.75],[.0351,16.05],[.0353,16.45],[.0354,15.85],[.0356,16.65],[.0357,16.25],[.0359,16.55],[.0360,15.95],[.0362,16.35],[.0363,16.75],[.0365,16.05],[.0366,16.45],[.0368,15.65],[.0369,16.25],[.0371,16.55],[.0373,15.95],[.0375,16.35],[.0377,16.05],[.0379,16.45],[.0381,15.75],[.0383,16.25],[.0385,16.05],[.0388,16.35],
[.0311,16.25],[.0313,15.65],[.0315,16.55],[.0317,15.95],[.0305,16.15],[.0302,15.45],[.0298,16.45],[.0295,15.75],[.0291,16.25],[.0288,15.15],[.0285,16.15],[.0282,15.55],[.0275,15.05],[.0268,15.25],[.0265,16.45],[.0262,15.65],[.0258,16.15],[.0255,15.35],[.0252,15.85],[.0248,16.25],[.0245,15.45],[.0242,16.45],[.0239,15.65],[.0236,16.05],[.0233,14.95],[.0229,15.85],[.0226,16.45],[.0330,14.35],[.0345,14.65],[.0355,14.35],[.0365,14.55],[.0320,14.35],[.0310,14.85],[.0300,14.25],[.0290,14.55],[.0280,14.25],[.0270,14.45],[.0260,14.85]
];

Chart.defaults.font.family = FONT;

// text with italic / subscript pieces: segs = [[text, flags]], flags 'i' italic, 's' subscript
function drawRich(ctx, it) {
  ctx.save();
  ctx.translate(it.x, it.y);
  ctx.rotate(it.rot || 0);
  ctx.fillStyle = it.color;
  ctx.textBaseline = 'middle';
  const parts = it.segs.map(s => {
    const fl = s[1] || '';
    const sub = fl.includes('s');
    const size = sub ? it.size * 0.72 : it.size;
    const font = (fl.includes('i') ? 'italic ' : '') + (it.bold ? 'bold ' : '') + size + 'px ' + FONT;
    ctx.font = font;
    return { t: s[0], font, w: ctx.measureText(s[0]).width, dy: sub ? it.size * 0.3 : 0 };
  });
  const total = parts.reduce((a, p) => a + p.w, 0);
  let cx = it.align === 'left' ? 0 : -total / 2;
  parts.forEach(p => { ctx.font = p.font; ctx.fillText(p.t, cx, p.dy); cx += p.w; });
  ctx.restore();
}

function notesPlugin(items) {
  return {
    id: 'notes',
    afterDraw(chart) {
      const a = chart.chartArea;
      items.forEach(it => drawRich(chart.ctx, Object.assign({}, it, it.at(a))));
    }
  };
}

// MATLAB style box with inward ticks
function framePlugin(cfg) {
  return {
    id: 'frame',
    afterDraw(chart) {
      const { ctx, chartArea: a, scales } = chart;
      const L = a.left + 0.5, R = a.right - 0.5, T = a.top + 0.5, B = a.bottom - 0.5, tl = 5;
      const seg = (c, x1, y1, x2, y2) => {
        ctx.strokeStyle = c; ctx.beginPath(); ctx.moveTo(x1, y1); ctx.lineTo(x2, y2); ctx.stroke();
      };
      ctx.save();
      ctx.lineWidth = 1;
      seg(AXIS, L, T, R, T);
      seg(AXIS, L, B, R, B);
      seg(cfg.left, L, T, L, B);
      seg(cfg.right, R, T, R, B);
      scales.x.ticks.forEach(t => {
        const px = Math.round(scales.x.getPixelForValue(t.value)) + 0.5;
        seg(AXIS, px, B, px, B - tl);
        seg(AXIS, px, T, px, T + tl);
      });
      scales.y.ticks.forEach(t => {
        const py = Math.round(scales.y.getPixelForValue(t.value)) + 0.5;
        seg(cfg.left, L, py, L + tl, py);
        if (!cfg.rightScale) seg(cfg.right, R, py, R - tl, py);
      });
      if (cfg.rightScale) {
        const yr = scales[cfg.rightScale];
        yr.ticks.forEach(t => {
          const py = Math.round(yr.getPixelForValue(t.value)) + 0.5;
          seg(cfg.right, R, py, R - tl, py);
        });
      }
      ctx.restore();
    }
  };
}

const tickFont = { size: 22, family: FONT };
const noGrid = { display: false, drawTicks: false };
const fixTicks = vals => s => { s.ticks = vals.map(v => ({ value: v })); };
const stressTitle = [['True Stress, '], ['\u03C3', 'i'], ['/(mg'], ['\u03BC', 'i'], ['/D)']];
const rateTitle = [['\u27E8J'], ['2', 's'], ['/(v'], ['c', 's'], ['/R)\u27E9']];
const midY = a => (a.top + a.bottom) / 2;

// (a)
new Chart(document.getElementById('chartA'), {
  type: 'line',
  data: {
    datasets: [
      { label: 'Stress', data: strainS.map((x, i) => ({ x, y: stress[i] })), yAxisID: 'y',
        borderColor: BLUE, borderWidth: 2.5, pointRadius: 0, tension: 0.3, fill: false },
      { label: 'Deviatoric Strain Rate', data: strainR.map((x, i) => ({ x, y: rate[i] })), yAxisID: 'y1',
        borderColor: ORANGE, borderWidth: 2.7, borderDash: [8, 6], pointRadius: 0, tension: 0.3, fill: false }
    ]
  },
  options: {
    responsive: false, animation: false, devicePixelRatio: 1,
    layout: { padding: { top: 7, left: 0, right: 0, bottom: 0 } },
    plugins: { legend: { display: false }, tooltip: { enabled: false } },
    scales: {
      x: { type: 'linear', min: 0, max: 0.4, grid: noGrid, border: { display: false },
        afterBuildTicks: fixTicks(strainTicks),
        ticks: { padding: 11, color: AXIS, font: tickFont, maxRotation: 0, callback: v => v === 0 ? '0' : v.toFixed(1) },
        afterFit: s => { s.height = 76; } },
      y: { position: 'left', min: 0, max: 40, grid: noGrid, border: { display: false },
        afterBuildTicks: fixTicks(stressTicksA),
        ticks: { padding: 7, color: BLUE, font: tickFont },
        afterFit: s => { s.width = 69; } },
      y1: { position: 'right', min: 0, max: 0.06, grid: noGrid, border: { display: false },
        afterBuildTicks: fixTicks(rateTicks),
        ticks: { padding: 7, color: ORANGE, font: tickFont, callback: v => v === 0 ? '0' : v.toFixed(2) },
        afterFit: s => { s.width = 93; } }
    }
  },
  plugins: [
    framePlugin({ left: BLUE, right: ORANGE, rightScale: 'y1' }),
    notesPlugin([
      { segs: [['(a)']], size: 29, color: '#000', align: 'left', at: a => ({ x: a.left + 3, y: 33 }) },
      { segs: [['Stress']], size: 22, bold: true, color: BLUE, at: a => ({ x: 161, y: 65 }) },
      { segs: [['Deviatoric Strain Rate']], size: 22, bold: true, color: ORANGE, align: 'left', at: a => ({ x: 106, y: 208 }) },
      { segs: stressTitle, size: 22, color: BLUE, rot: -Math.PI / 2, at: a => ({ x: 22, y: midY(a) }) },
      { segs: rateTitle, size: 22, color: ORANGE, rot: -Math.PI / 2, at: a => ({ x: 503, y: midY(a) }) },
      { segs: [['Strain, \u03B3 = \u0394H/H'], ['0', 's']], size: 22, color: AXIS, at: a => ({ x: (a.left + a.right) / 2, y: 350 }) }
    ])
  ]
});

// (b)-(d)
function scatterPanel(id, points, yTicks, showX, xHeight, padTop, label, labelY, extra) {
  const notes = [
    { segs: [[label]], size: 29, color: '#000', align: 'left', at: a => ({ x: a.left + 3, y: labelY }) },
    { segs: stressTitle, size: 22, color: AXIS, rot: -Math.PI / 2, at: a => ({ x: 22, y: midY(a) }) }
  ].concat(extra || []);
  new Chart(document.getElementById(id), {
    type: 'scatter',
    data: { datasets: [{ data: points.map(p => ({ x: p[0], y: p[1] })), backgroundColor: BLUE,
      borderWidth: 0, pointRadius: 1.9 }] },
    options: {
      responsive: false, animation: false, devicePixelRatio: 1,
      layout: { padding: { top: padTop, right: 47, left: 0, bottom: 0 } },
      plugins: { legend: { display: false }, tooltip: { enabled: false } },
      scales: {
        x: { type: 'linear', min: 0.02, max: 0.05, grid: noGrid, border: { display: false },
          afterBuildTicks: fixTicks(rateXTicks),
          ticks: { display: showX, padding: 11, color: AXIS, font: tickFont, maxRotation: 0, callback: v => v.toFixed(2) },
          afterFit: s => { s.height = xHeight; } },
        y: { min: yTicks[0], max: yTicks[yTicks.length - 1], grid: noGrid, border: { display: false },
          afterBuildTicks: fixTicks(yTicks),
          ticks: { padding: 7, color: AXIS, font: tickFont },
          afterFit: s => { s.width = 69; } }
      }
    },
    plugins: [framePlugin({ left: AXIS, right: AXIS }), notesPlugin(notes)]
  });
}

scatterPanel('chartB', monomers, monoTicks, false, 18, 26, '(b) Monomers', 50);
scatterPanel('chartC', dimers, diTicks, false, 19, 20, '(c) Dimers', 47);
scatterPanel('chartD', trimers, triTicks, true, 74, 21, '(d) Trimers', 282, [
  { segs: rateTitle, size: 22, color: AXIS, at: a => ({ x: (a.left + a.right) / 2 - 5, y: 365 }) }
]);
</script>
</body>
</html>
